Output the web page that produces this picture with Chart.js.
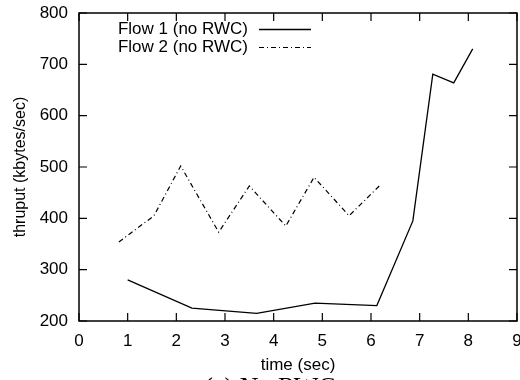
<!DOCTYPE html>
<html>
<head>
<meta charset="utf-8">
<script src="https://cdn.jsdelivr.net/npm/chart.js@4/dist/chart.umd.min.js"></script>
<style>
  body { margin: 0; background: #fff; }
</style>
</head>
<body>
<canvas id="grafico" width="520" height="380"></canvas>
<script>
// datos
var flow1Tiempo = [1.0, 2.32, 3.65, 4.85, 6.12, 6.86, 7.27, 7.7, 8.09];
var flow1Valor  = [280, 225, 215, 235, 230, 395, 681, 664, 730];
var flow2Tiempo = [0.82, 1.54, 2.09, 2.87, 3.5, 4.25, 4.83, 5.55, 6.17];
var flow2Valor  = [354, 405, 502, 373, 463, 385, 480, 405, 463];
var etiquetas = ["Flow 1 (no RWC)", "Flow 2 (no RWC)"];
var xTicks = [0, 1, 2, 3, 4, 5, 6, 7, 8, 9];
var yTicks = [200, 300, 400, 500, 600, 700, 800];

function puntos(xs, ys) {
  return xs.map(function (x, i) { return { x: x, y: ys[i] }; });
}

var fuente = "'Liberation Sans', Arial, sans-serif";

// marco, ticks hacia dentro, leyenda y pie (estilo gnuplot)
var marcoGnuplot = {
  id: "marcoGnuplot",
  afterDatasetsDraw: function (chart) {
    var ctx = chart.ctx;
    var a = chart.chartArea;
    var sx = chart.scales.x, sy = chart.scales.y;
    ctx.save();
    ctx.strokeStyle = "#000";
    ctx.lineWidth = 1.5;
    ctx.strokeRect(a.left, a.top, a.right - a.left, a.bottom - a.top);
    ctx.lineWidth = 1.2;
    ctx.beginPath();
    xTicks.forEach(function (v) {
      var px = sx.getPixelForValue(v);
      ctx.moveTo(px, a.bottom); ctx.lineTo(px, a.bottom - 8);
      ctx.moveTo(px, a.top); ctx.lineTo(px, a.top + 8);
    });
    yTicks.forEach(function (v) {
      var py = sy.getPixelForValue(v);
      ctx.moveTo(a.left, py); ctx.lineTo(a.left + 8, py);
      ctx.moveTo(a.right, py); ctx.lineTo(a.right - 8, py);
    });
    ctx.stroke();

    // leyenda
    ctx.font = "17px " + fuente;
    ctx.fillStyle = "#000";
    ctx.textAlign = "right";
    ctx.textBaseline = "middle";
    chart.data.datasets.forEach(function (ds, i) {
      var y = a.top + 16 + i * 18;
      ctx.fillText(ds.label, 248, y);
      ctx.beginPath();
      ctx.setLineDash(ds.borderDash || []);
      ctx.lineWidth = ds.borderWidth;
      ctx.moveTo(259, y + 0.5);
      ctx.lineTo(311, y + 0.5);
      ctx.stroke();
      ctx.setLineDash([]);
    });

    // pie de figura (cortado abajo)
    ctx.font = "26px 'Liberation Serif', 'Times New Roman', serif";
    ctx.textAlign = "center";
    ctx.textBaseline = "alphabetic";
    ctx.fillText("(a) No RWC", 270, 395);
    ctx.restore();
  }
};

new Chart(document.getElementById("grafico"), {
  type: "line",
  data: {
    datasets: [{
      label: etiquetas[0],
      data: puntos(flow1Tiempo, flow1Valor),
      borderColor: "#000",
      borderWidth: 1.3,
      pointRadius: 0,
      fill: false,
      tension: 0
    }, {
      label: etiquetas[1],
      data: puntos(flow2Tiempo, flow2Valor),
      borderColor: "#000",
      borderWidth: 1.2,
      borderDash: [5, 3, 1, 3],
      pointRadius: 0,
      fill: false,
      tension: 0
    }]
  },
  options: {
    responsive: false,
    animation: false,
    devicePixelRatio: 1,
    layout: { padding: { top: 13, right: 3, left: 0, bottom: 0 } },
    plugins: {
      legend: { display: false },
      tooltip: { enabled: false }
    },
    scales: {
      x: {
        type: "linear",
        min: 0, max: 9,
        afterFit: function (s) { s.height = 59; s.paddingLeft = 0; s.paddingRight = 0; },
        afterBuildTicks: function (s) { s.ticks = xTicks.map(function (v) { return { value: v }; }); },
        grid: { display: false, drawTicks: false },
        border: { display: false },
        ticks: { color: "#000", font: { family: fuente, size: 17 }, padding: 10, maxRotation: 0 },
        title: { display: true, text: "time (sec)", color: "#000", font: { family: fuente, size: 17 }, padding: { top: 0, bottom: 4 } }
      },
      y: {
        min: 200, max: 800,
        afterFit: function (s) { s.width = 79; s.paddingTop = 0; s.paddingBottom = 0; },
        afterBuildTicks: function (s) { s.ticks = yTicks.map(function (v) { return { value: v }; }); },
        grid: { display: false, drawTicks: false },
        border: { display: false },
        ticks: { color: "#000", font: { family: fuente, size: 17 }, padding: 11 },
        title: { display: true, text: "thruput (kbytes/sec)", color: "#000", font: { family: fuente, size: 16 }, padding: { top: 11, bottom: 0 } }
      }
    }
  },
  plugins: [marcoGnuplot]
});
</script>
</body>
</html>
